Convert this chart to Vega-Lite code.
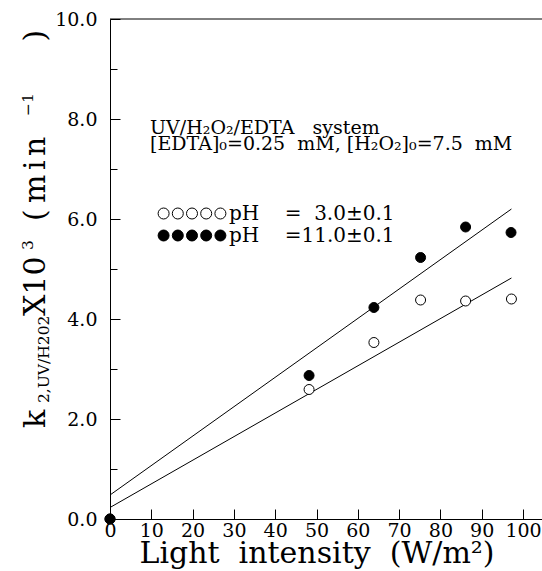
{
  "$schema": "https://vega.github.io/schema/vega-lite/v6.json",
  "width": 432,
  "height": 500,
  "autosize": {"type": "none"},
  "padding": {"left": 110, "top": 19, "right": 0, "bottom": 52},
  "background": "white",
  "config": {"view": {"stroke": null}, "font": "DejaVu Serif"},
  "datasets": {
    "points": [
      {"series": "pH\u00a0\u00a0\u00a0\u00a0=\u00a0\u00a03.0±0.1", "x": 0, "y": 0},
      {"series": "pH\u00a0\u00a0\u00a0\u00a0=\u00a0\u00a03.0±0.1", "x": 48.2, "y": 2.59},
      {"series": "pH\u00a0\u00a0\u00a0\u00a0=\u00a0\u00a03.0±0.1", "x": 63.9, "y": 3.53},
      {"series": "pH\u00a0\u00a0\u00a0\u00a0=\u00a0\u00a03.0±0.1", "x": 75.2, "y": 4.38},
      {"series": "pH\u00a0\u00a0\u00a0\u00a0=\u00a0\u00a03.0±0.1", "x": 86.1, "y": 4.36},
      {"series": "pH\u00a0\u00a0\u00a0\u00a0=\u00a0\u00a03.0±0.1", "x": 97.2, "y": 4.4},
      {"series": "pH\u00a0\u00a0\u00a0\u00a0=11.0±0.1", "x": 0, "y": 0},
      {"series": "pH\u00a0\u00a0\u00a0\u00a0=11.0±0.1", "x": 48.2, "y": 2.87},
      {"series": "pH\u00a0\u00a0\u00a0\u00a0=11.0±0.1", "x": 63.9, "y": 4.23},
      {"series": "pH\u00a0\u00a0\u00a0\u00a0=11.0±0.1", "x": 75.2, "y": 5.23},
      {"series": "pH\u00a0\u00a0\u00a0\u00a0=11.0±0.1", "x": 86.1, "y": 5.84},
      {"series": "pH\u00a0\u00a0\u00a0\u00a0=11.0±0.1", "x": 97.1, "y": 5.73}
    ],
    "fits": [
      {"fit": "pH3", "x": 0, "y": 0.23},
      {"fit": "pH3", "x": 97.2, "y": 4.82},
      {"fit": "pH11", "x": 0, "y": 0.48},
      {"fit": "pH11", "x": 97.2, "y": 6.2}
    ],
    "notes": [
      {"text": "UV/H₂O₂/EDTA\u00a0\u00a0\u00a0system", "x": 9.7, "y": 7.82},
      {"text": "[EDTA]₀=0.25\u00a0\u00a0mM, [H₂O₂]₀=7.5\u00a0\u00a0mM", "x": 9.7, "y": 7.51}
    ],
    "ytitleBig": [
      {"text": "k", "x": -15.74, "y": 1.82},
      {"text": "X10", "x": -15.74, "y": 4.06},
      {"text": "(", "x": -15.74, "y": 5.96},
      {"text": "m", "x": -15.74, "y": 6.32},
      {"text": "i", "x": -15.74, "y": 6.98},
      {"text": "n", "x": -15.74, "y": 7.26},
      {"text": ")", "x": -15.74, "y": 9.55}
    ],
    "ytitleSmall": [
      {"text": "2,UV/H202", "x": -14.77, "y": 2.32},
      {"text": "3", "x": -18.6, "y": 5.38},
      {"text": "−1", "x": -18.6, "y": 8.06}
    ]
  },
  "layer": [
    {
      "data": {"values": [{}]},
      "mark": {"type": "rule", "color": "black", "strokeWidth": 1},
      "encoding": {"y": {"datum": 10, "type": "quantitative"}}
    },
    {
      "data": {"name": "fits"},
      "mark": {"type": "line", "color": "black", "strokeWidth": 1},
      "encoding": {
        "x": {"field": "x", "type": "quantitative", "title": "Light\u00a0\u00a0intensity\u00a0\u00a0(W/m²)"},
        "y": {"field": "y", "type": "quantitative", "title": null},
        "detail": {"field": "fit"}
      }
    },
    {
      "data": {"name": "points"},
      "mark": {"type": "point", "shape": "circle", "filled": true, "stroke": "black", "strokeWidth": 1, "size": 100, "opacity": 1},
      "encoding": {
        "x": {
          "field": "x", "type": "quantitative",
          "title": "Light\u00a0\u00a0intensity\u00a0\u00a0(W/m²)",
          "scale": {"domain": [0, 104.6], "nice": false, "zero": false},
          "axis": {
            "values": [0,5,10,15,20,25,30,35,40,45,50,55,60,65,70,75,80,85,90,95,100],
            "labelExpr": "datum.value % 10 === 0 ? datum.label : ''",
            "tickSize": {"condition": {"test": "datum.value % 10 === 0", "value": -10}, "value": -6},
            "tickColor": "black", "domainColor": "black", "grid": false,
            "labelFont": "DejaVu Serif", "labelFontSize": 19, "labelColor": "black",
            "labelPadding": 12, "labelFlush": false, "labelOverlap": false,
            "titleFont": "DejaVu Serif", "titleFontSize": 30, "titleFontWeight": "normal", "titleColor": "black",
            "titleX": 206.5, "titleY": 43, "titleAlign": "center", "titleBaseline": "alphabetic"
          }
        },
        "y": {
          "field": "y", "type": "quantitative", "title": null,
          "scale": {"domain": [0, 10], "nice": false, "zero": false},
          "axis": {
            "values": [0,0.5,1,1.5,2,2.5,3,3.5,4,4.5,5,5.5,6,6.5,7,7.5,8,8.5,9,9.5,10],
            "labelExpr": "datum.value % 2 === 0 ? format(datum.value, '.1f') : ''",
            "tickSize": {"condition": {"test": "datum.value % 2 === 0", "value": -10}, "value": -7},
            "tickColor": "black", "domainColor": "black", "grid": false,
            "labelFont": "DejaVu Serif", "labelFontSize": 19, "labelColor": "black",
            "labelPadding": 23, "labelFlush": false, "labelOverlap": false
          }
        },
        "fill": {
          "field": "series", "type": "nominal",
          "scale": {"domain": ["pH\u00a0\u00a0\u00a0\u00a0=\u00a0\u00a03.0±0.1", "pH\u00a0\u00a0\u00a0\u00a0=11.0±0.1"], "range": ["white", "black"]},
          "legend": {
            "orient": "none", "legendX": 70.5, "legendY": 183, "title": null, "padding": 0,
            "symbolType": "M-3.081,0A0.5,0.5,0,1,0,-2.081,0A0.5,0.5,0,1,0,-3.081,0ZM-1.791,0A0.5,0.5,0,1,0,-0.791,0A0.5,0.5,0,1,0,-1.791,0ZM-0.5,0A0.5,0.5,0,1,0,0.5,0A0.5,0.5,0,1,0,-0.5,0ZM0.791,0A0.5,0.5,0,1,0,1.791,0A0.5,0.5,0,1,0,0.791,0ZM2.081,0A0.5,0.5,0,1,0,3.081,0A0.5,0.5,0,1,0,2.081,0Z",
            "symbolSize": 484, "symbolStrokeColor": "black", "symbolStrokeWidth": 1, "symbolOpacity": 1,
            "labelFont": "DejaVu Serif", "labelFontSize": 20, "labelColor": "black", "labelOffset": 25.5,
            "labelLimit": 0, "rowPadding": 0
          }
        }
      }
    },
    {
      "data": {"name": "notes"},
      "mark": {"type": "text", "align": "left", "baseline": "middle", "fontSize": 19, "font": "DejaVu Serif", "color": "black"},
      "encoding": {
        "x": {"field": "x", "type": "quantitative", "title": "Light\u00a0\u00a0intensity\u00a0\u00a0(W/m²)"},
        "y": {"field": "y", "type": "quantitative", "title": null},
        "text": {"field": "text"}
      }
    },
    {
      "data": {"name": "ytitleBig"},
      "mark": {"type": "text", "align": "left", "baseline": "alphabetic", "angle": 270, "fontSize": 30, "font": "DejaVu Serif", "color": "black"},
      "encoding": {
        "x": {"field": "x", "type": "quantitative", "title": "Light\u00a0\u00a0intensity\u00a0\u00a0(W/m²)"},
        "y": {"field": "y", "type": "quantitative", "title": null},
        "text": {"field": "text"}
      }
    },
    {
      "data": {"name": "ytitleSmall"},
      "mark": {"type": "text", "align": "left", "baseline": "alphabetic", "angle": 270, "fontSize": 15.5, "font": "DejaVu Serif", "color": "black"},
      "encoding": {
        "x": {"field": "x", "type": "quantitative", "title": "Light\u00a0\u00a0intensity\u00a0\u00a0(W/m²)"},
        "y": {"field": "y", "type": "quantitative", "title": null},
        "text": {"field": "text"}
      }
    }
  ]
}
